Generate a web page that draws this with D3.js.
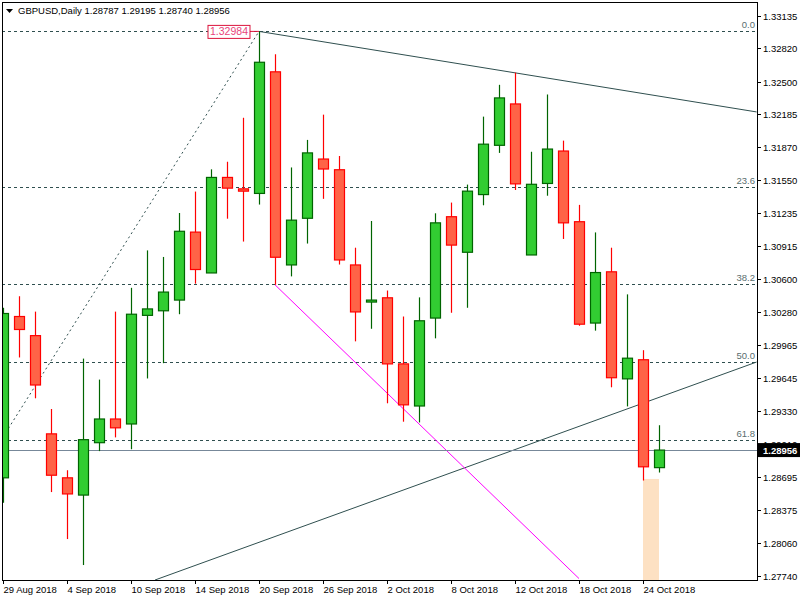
<!DOCTYPE html>
<html>
<head>
<meta charset="utf-8">
<script src="https://cdn.jsdelivr.net/npm/d3@7"></script>
<style>
  body { margin: 0; background: #fff; }
  text { font-family: "Liberation Sans", Arial, sans-serif; font-size: 9.5px; }
</style>
</head>
<body>
<svg id="canvas" width="800" height="600"></svg>
<script>
// GBPUSD daily candles
const dates = ['29 Aug 2018','30 Aug','31 Aug','3 Sep','4 Sep 2018','5 Sep','6 Sep','7 Sep','10 Sep 2018','11 Sep','12 Sep','13 Sep','14 Sep 2018','17 Sep','18 Sep','19 Sep','20 Sep 2018','21 Sep','24 Sep','25 Sep','26 Sep 2018','27 Sep','28 Sep','1 Oct','2 Oct 2018','3 Oct','4 Oct','5 Oct','8 Oct 2018','9 Oct','10 Oct','11 Oct','12 Oct 2018','15 Oct','16 Oct','17 Oct','18 Oct 2018','19 Oct','22 Oct','23 Oct','24 Oct 2018','25 Oct'];
const opens  = [1.28689,1.30241,1.30057,1.29112,1.28689,1.28523,1.29027,1.29255,1.29207,1.30252,1.30296,1.30399,1.31053,1.30660,1.31579,1.31469,1.31425,1.32595,1.30737,1.31186,1.31756,1.31653,1.30737,1.30380,1.30421,1.29785,1.29380,1.30226,1.31201,1.30859,1.31414,1.31888,1.32286,1.30833,1.31521,1.31833,1.31153,1.30178,1.30671,1.29641,1.29825,1.28787];
const highs  = [1.30325,1.30436,1.30288,1.29351,1.28762,1.29836,1.29634,1.30288,1.30517,1.30877,1.30814,1.31237,1.31443,1.31657,1.31730,1.32153,1.32984,1.32764,1.31675,1.31940,1.32183,1.31785,1.30903,1.31160,1.30491,1.30241,1.30425,1.31234,1.31337,1.31510,1.32164,1.32470,1.32587,1.31826,1.32377,1.31933,1.31315,1.31050,1.30903,1.30454,1.29917,1.29195];
const lows   = [1.28449,1.29847,1.29454,1.28552,1.28100,1.27850,1.28946,1.29078,1.28964,1.29645,1.29792,1.30263,1.30557,1.30660,1.31182,1.30962,1.31318,1.30546,1.30627,1.30943,1.31373,1.30741,1.30002,1.30123,1.29406,1.29229,1.29222,1.30031,1.30277,1.30325,1.31311,1.31815,1.31458,1.30833,1.31403,1.30987,1.30152,1.30105,1.29560,1.29376,1.28663,1.28740];
const closes = [1.30270,1.30116,1.29582,1.28714,1.28534,1.29056,1.29255,1.29170,1.30263,1.30314,1.30476,1.31061,1.30693,1.31579,1.31476,1.31447,1.32687,1.30811,1.31168,1.31815,1.31660,1.30785,1.30285,1.30399,1.29785,1.29391,1.30200,1.31142,1.30928,1.31447,1.31899,1.32344,1.31517,1.31513,1.31852,1.31142,1.30167,1.30664,1.29652,1.29840,1.28795,1.28956];

const priceTicks = [1.33135,1.32820,1.32500,1.32185,1.31870,1.31550,1.31235,1.30915,1.30600,1.30280,1.29965,1.29645,1.29330,1.29010,1.28695,1.28375,1.28060,1.27740];
const labelEvery = 4;

// fibonacci retracement
const fibHigh = 1.32984, fibLow = 1.26628;
const fibLevels = [0, 23.6, 38.2, 50.0, 61.8];
const fibLabels = ['0.0','23.6','38.2','50.0','61.8'];

// drawn objects: [index, price] pairs
const fibTrend   = [[0, 1.29082], [16, 1.32984]];
const upperTrend = [[16, 1.32984], [47.1, 1.32209]];
const lowerTrend = [[9.5, 1.27706], [47.1, 1.29803]];
const magentaLine = [[17, 1.30546], [36, 1.27720]];
const zoneBox = { from: 40, to: 41, top: 1.28678 };
const lastPrice = 1.28956;

const svg = d3.select('#canvas');
const pl = 2, pr = 757, pt = 2, pb = 580;

let x = d3.scaleLinear().domain([0, 41]).range([3, 659]);
let y = d3.scaleLinear().domain([1.27706, 1.33286]).range([pb, 0]);

svg.append('defs').append('clipPath').attr('id', 'clip')
  .append('rect').attr('x', pl).attr('y', pt).attr('width', pr - pl).attr('height', pb - pt);

let plot = svg.append('g').attr('clip-path', 'url(#clip)');

// zone box
plot.append('rect')
  .attr('x', x(zoneBox.from)).attr('y', y(zoneBox.top))
  .attr('width', x(zoneBox.to) - x(zoneBox.from)).attr('height', pb - y(zoneBox.top))
  .attr('fill', '#fde1c3');

// fib levels
fibLevels.forEach((lv, i) => {
  let p = fibHigh - (fibHigh - fibLow) * lv / 100;
  plot.append('line')
    .attr('x1', pl).attr('x2', pr).attr('y1', Math.round(y(p)) + 0.5).attr('y2', Math.round(y(p)) + 0.5)
    .attr('stroke', '#2f4f4f').attr('stroke-dasharray', '3,3');
  plot.append('text').attr('x', pr - 2).attr('y', y(p) - 3)
    .attr('text-anchor', 'end').attr('fill', '#5a6e6e').text(fibLabels[i]);
});

let line = d3.line().x(d => x(d[0])).y(d => y(d[1]));

plot.append('path').attr('d', line(fibTrend)).attr('fill', 'none')
  .attr('stroke', '#2f4f4f').attr('stroke-dasharray', '2,3');
plot.append('path').attr('d', line(upperTrend)).attr('fill', 'none').attr('stroke', '#2f4f4f');
plot.append('path').attr('d', line(lowerTrend)).attr('fill', 'none').attr('stroke', '#2f4f4f');
plot.append('path').attr('d', line(magentaLine)).attr('fill', 'none').attr('stroke', '#ff00ff');

// last price line
plot.append('line').attr('x1', pl).attr('x2', pr)
  .attr('y1', Math.round(y(lastPrice)) + 0.5).attr('y2', Math.round(y(lastPrice)) + 0.5)
  .attr('stroke', '#778899');

// candles
let candles = plot.selectAll('g.candle')
  .data(dates.map((d, i) => ({ i, o: opens[i], h: highs[i], l: lows[i], c: closes[i] })))
  .enter().append('g');

candles.append('line')
  .attr('x1', d => Math.round(x(d.i)) + 0.5).attr('x2', d => Math.round(x(d.i)) + 0.5)
  .attr('y1', d => y(d.h)).attr('y2', d => y(d.l))
  .attr('stroke', d => d.c >= d.o ? '#006400' : '#ff0000').attr('stroke-width', 1.2);

candles.append('rect')
  .attr('x', d => Math.round(x(d.i)) - 4.5)
  .attr('y', d => y(Math.max(d.o, d.c)))
  .attr('width', 10)
  .attr('height', d => Math.max(1, Math.abs(y(d.o) - y(d.c))))
  .attr('fill', d => d.c >= d.o ? '#32cd32' : '#ff6347')
  .attr('stroke', d => d.c >= d.o ? '#006400' : '#ff0000').attr('stroke-width', 1.2);

// high label of fib
let hx = x(16), hy = y(fibHigh);
plot.append('line').attr('x1', 250).attr('x2', hx).attr('y1', hy).attr('y2', hy).attr('stroke', '#dc143c');
plot.append('rect').attr('x', 208).attr('y', hy - 6).attr('width', 42).attr('height', 13)
  .attr('fill', '#fff').attr('stroke', '#dc143c');
plot.append('text').attr('x', 229).attr('y', hy + 4).attr('text-anchor', 'middle')
  .attr('fill', '#e8457a').style('font-size', '10.5px').text(fibHigh.toFixed(5));

// frame
svg.append('rect').attr('x', pl + 0.5).attr('y', pt + 0.5).attr('width', pr - pl).attr('height', pb - pt)
  .attr('fill', 'none').attr('stroke', '#000');

// right axis
priceTicks.forEach(p => {
  let py = Math.round(y(p)) + 0.5;
  svg.append('line').attr('x1', pr).attr('x2', pr + 4).attr('y1', py).attr('y2', py).attr('stroke', '#000');
  svg.append('text').attr('x', pr + 6).attr('y', py + 3.5).attr('fill', '#000').text(p.toFixed(5));
});
let ly = y(lastPrice);
svg.append('rect').attr('x', pr + 1).attr('y', ly - 7).attr('width', 42).attr('height', 14).attr('fill', '#000');
svg.append('text').attr('x', pr + 6).attr('y', ly + 3.5).attr('fill', '#fff').style('font-weight', 'bold').text(lastPrice.toFixed(5));

// bottom axis
dates.forEach((d, i) => {
  if (i % labelEvery !== 0) return;
  let tx = Math.round(x(i)) + 0.5;
  svg.append('line').attr('x1', tx).attr('x2', tx).attr('y1', pb).attr('y2', pb + 4).attr('stroke', '#000');
  svg.append('text').attr('x', tx).attr('y', pb + 13).attr('fill', '#000').text(d);
});

// header
svg.append('path').attr('d', 'M6,9 L13,9 L9.5,13 Z').attr('fill', '#000');
svg.append('text').attr('x', 18).attr('y', 14).attr('fill', '#000')
  .text('GBPUSD,Daily  ' + [opens[41], highs[41], lows[41], closes[41]].map(v => v.toFixed(5)).join(' '));
</script>
</body>
</html>
